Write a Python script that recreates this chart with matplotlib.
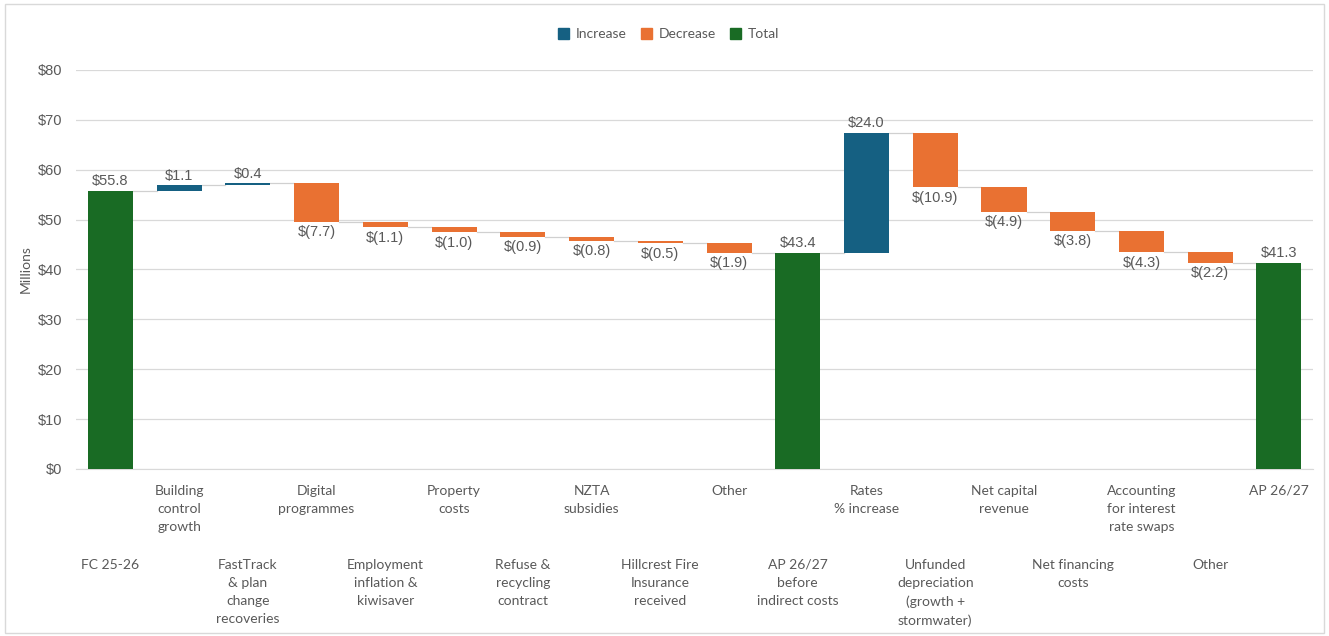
import matplotlib
matplotlib.use("Agg")
import matplotlib.pyplot as plt
from matplotlib.patches import Patch, Rectangle

categories = [
    "FC 25-26", "Building\ncontrol\ngrowth", "FastTrack\n& plan\nchange\nrecoveries",
    "Digital\nprogrammes", "Employment\ninflation &\nkiwisaver", "Property\ncosts",
    "Refuse &\nrecycling\ncontract", "NZTA\nsubsidies", "Hillcrest Fire\nInsurance\nreceived",
    "Other", "AP 26/27\nbefore\nindirect costs", "Rates\n% increase",
    "Unfunded\ndepreciation\n(growth +\nstormwater)", "Net capital\nrevenue",
    "Net financing\ncosts", "Accounting\nfor interest\nrate swaps", "Other", "AP 26/27",
]
values = [55.8, 1.1, 0.4, -7.7, -1.1, -1.0, -0.9, -0.8, -0.5, -1.9,
          43.4, 24.0, -10.9, -4.9, -3.8, -4.3, -2.2, 41.3]
is_total = [True, False, False, False, False, False, False, False, False, False,
            True, False, False, False, False, False, False, True]
yticks = [0, 10, 20, 30, 40, 50, 60, 70, 80]

C_INC = "#156082"
C_DEC = "#E97132"
C_TOT = "#196B24"
GRAY = "#595959"
FONT = "Lato"
NUMFONT = ["Liberation Sans", "DejaVu Sans"]
plt.rcParams['font.family'] = [FONT, 'DejaVu Sans']

fig = plt.figure(figsize=(13.29, 6.36), dpi=100)
ax = fig.add_axes([0.0572, 0.2626, 0.931, 0.6274])

width = 0.655
running = 0.0
tops = []
for i, (v, tot) in enumerate(zip(values, is_total)):
    if tot:
        running = v
        ax.bar(i, v, width, bottom=0, color=C_TOT, zorder=3)
        ax.text(i, v + 0.5, f"${v:.1f}", ha='center', va='bottom', fontsize=10.5,
                color=GRAY, family=NUMFONT)
    else:
        start = running
        running = start + v
        col = C_INC if v > 0 else C_DEC
        ax.bar(i, v, width, bottom=start, color=col, zorder=3)
        if v > 0:
            ax.text(i, running + 0.5, f"${v:.1f}", ha='center', va='bottom', fontsize=10.5,
                    color=GRAY, family=NUMFONT)
        else:
            ax.text(i, running - 0.7, f"$({abs(v):.1f})", ha='center', va='top', fontsize=10.5,
                    color=GRAY, family=NUMFONT)
    tops.append(running)

# connector lines
for i in range(len(values) - 1):
    ax.plot([i + width / 2, i + 1 - width / 2], [tops[i], tops[i]], color="#d0d0d0", lw=0.9, zorder=2)

ax.set_xlim(-0.5, 17.5)
ax.set_ylim(0, 80)
ax.set_yticks(yticks)
ax.set_yticklabels([f"${t}" for t in yticks], fontsize=10.5, color=GRAY, family=NUMFONT)
ax.yaxis.grid(True, color="#d9d9d9", lw=0.9, zorder=0)
ax.set_axisbelow(True)
for s in ['top', 'right', 'left']:
    ax.spines[s].set_visible(False)
ax.spines['bottom'].set_color("#d9d9d9")
ax.tick_params(axis='y', length=0, pad=10)
ax.tick_params(axis='x', length=0)
ax.set_xticks(range(len(categories)))
ax.set_xticklabels([])
ax.set_ylabel("Millions", fontsize=10, color=GRAY, labelpad=4)

# staggered category labels
for i, c in enumerate(categories):
    y = -0.04 if i % 2 == 1 else -0.225
    ax.text(i, y, c, transform=ax.get_xaxis_transform(), ha='center', va='top',
            fontsize=10, color=GRAY, linespacing=1.6)

handles = [Patch(color=C_INC, label="Increase"), Patch(color=C_DEC, label="Decrease"),
           Patch(color=C_TOT, label="Total")]
fig.legend(handles=handles, loc='center', bbox_to_anchor=(0.503, 0.946), ncol=3, frameon=False,
           fontsize=10, handlelength=0.8, handleheight=0.8, handletextpad=0.5, columnspacing=1.0,
           labelcolor=GRAY)

fig.patches.append(Rectangle((0.004, 0.004), 0.992, 0.99, transform=fig.transFigure,
                             fill=False, edgecolor="#d9d9d9", lw=1))

fig.savefig("out.png", dpi=100)
